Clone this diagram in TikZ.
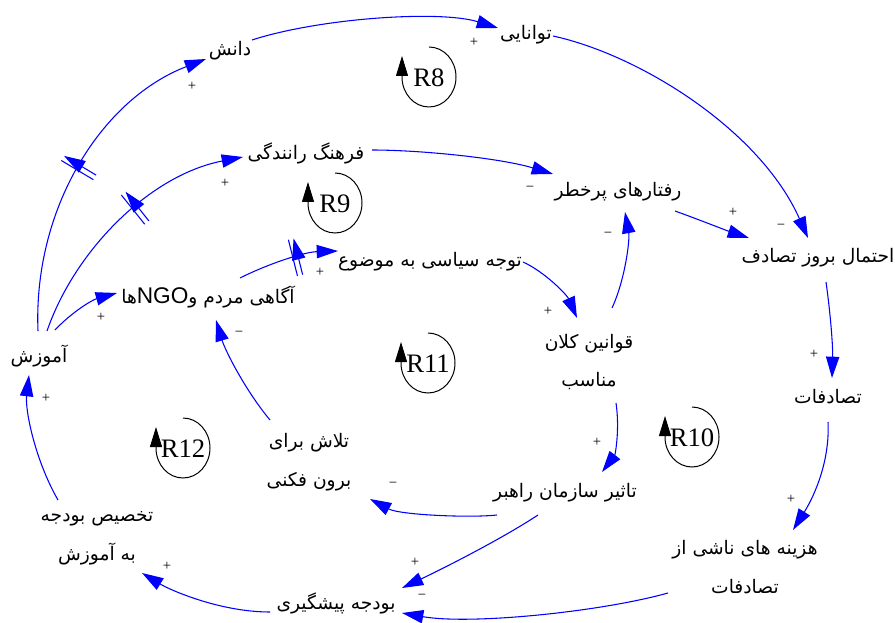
\documentclass[tikz,border=0pt]{standalone}
\usepackage{fontspec}
\setmainfont{Liberation Serif}
\newfontfamily\farsifont[Script=Arabic]{DejaVu Sans}
\newfontfamily\latinsans{Liberation Sans}
\TeXXeTstate=1
\usetikzlibrary{arrows.meta,decorations.markings}
\definecolor{linkblue}{RGB}{0,0,255}

\tikzset{
  var/.style={align=center, inner sep=1pt, font=\farsifont\fontsize{14}{29}\selectfont},
  link/.style={draw=linkblue, line width=0.8pt, -{Triangle[length=16pt,width=10pt]}},
  delay/.style={postaction={decorate, decoration={markings, mark=at position #1 with {
      \draw[linkblue, line width=0.8pt] (-2pt,-14pt) -- (-2pt,14pt) (2pt,-14pt) -- (2pt,14pt);}}}},
  sign/.style={inner sep=0pt, font=\fontsize{11}{11}\selectfont},
  looptext/.style={inner sep=0pt, font=\fontsize{20}{20}\selectfont},
  loopline/.style={draw=black, line width=0.75pt, -{Triangle[length=15pt,width=9pt]}}
}

\begin{document}
\begin{tikzpicture}[x=0.75pt, y=-0.75pt]
\useasboundingbox[fill=white] (0,0) rectangle (895,623);

% variables
\node[var] (edu)    at (39,356)  {\beginR آموزش\endR};
\node[var] (know)   at (230,51)  {\beginR دانش\endR};
\node[var] (abil)   at (526,35)  {\beginR توانایی\endR};
\node[var] (cult)   at (306,153) {\beginR فرهنگ رانندگی\endR};
\node[var] (aware)  at (208,297) {\beginR آگاهی مردم و\beginL{\latinsans\fontsize{17}{17}\selectfont NGO}\endL ها\endR};
\node[var] (polit)  at (430,262) {\beginR توجه سیاسی به موضوع\endR};
\node[var] (risk)   at (618,192) {\beginR رفتارهای پرخطر\endR};
\node[var] (prob)   at (818,258) {\beginR احتمال بروز تصادف\endR};
\node[var] (acc)    at (828,397) {\beginR تصادفات\endR};
\node[var] (cost)   at (745,567) {\beginR هزینه های ناشی از\endR\\\beginR تصادفات\endR};
\node[var] (law)    at (589,362) {\beginR قوانین کلان\endR\\\beginR مناسب\endR};
\node[var] (org)    at (565,493) {\beginR تاثیر سازمان راهبر\endR};
\node[var] (extern) at (309,462) {\beginR تلاش برای\endR\\\beginR برون فکنی\endR};
\node[var] (prev)   at (336,603) {\beginR بودجه پیشگیری\endR};
\node[var] (alloc)  at (97,538)  {\beginR تخصیص بودجه\endR\\\beginR به آموزش\endR};

% causal links
\draw[link, delay=0.5] ([shift={(-1,-25)}]edu.center) .. controls (33,210) and (100,100) .. ([shift={(-24,8)}]know.center);
\draw[link, delay=0.56] ([shift={(8,-25)}]edu.center) .. controls (75,250) and (150,175) .. ([shift={(-63,4)}]cult.center);
\draw[link] ([shift={(16,-26)}]edu.center) .. controls (72,312) and (92,300) .. ([shift={(-91,-4)}]aware.center);
\draw[link] ([shift={(22,-11)}]know.center) .. controls (320,18) and (440,10) .. ([shift={(-28,-7)}]abil.center);
\draw[link] ([shift={(27,1)}]abil.center) .. controls (640,55) and (760,130) .. ([shift={(-10,-20)}]prob.center);
\draw[link] ([shift={(66,-3)}]cult.center) .. controls (420,150) and (500,158) .. ([shift={(-65,-18)}]risk.center);
\draw[link, delay=0.58] ([shift={(32,-19)}]aware.center) .. controls (270,263) and (305,252) .. ([shift={(-92,-11)}]polit.center);
\draw[link] ([shift={(93,0)}]polit.center) .. controls (545,272) and (567,295) .. ([shift={(-12,-44)}]law.center);
\draw[link] ([shift={(23,-54)}]law.center) .. controls (625,280) and (630,240) .. ([shift={(7,20)}]risk.center);
\draw[link] ([shift={(57,19)}]risk.center) .. controls (700,220) and (725,230) .. ([shift={(-69,-20)}]prob.center);
\draw[link] ([shift={(8,24)}]prob.center) .. controls (830,310) and (833,345) .. ([shift={(4,-19)}]acc.center);
\draw[link] ([shift={(0,25)}]acc.center) .. controls (830,460) and (815,495) .. ([shift={(48,-37)}]cost.center);
\draw[link] ([shift={(-77,26)}]cost.center) .. controls (600,612) and (470,625) .. ([shift={(66,10)}]prev.center);
\draw[link] ([shift={(-27,22)}]org.center) .. controls (500,540) and (440,570) .. ([shift={(66,-15)}]prev.center);
\draw[link] ([shift={(-68,22)}]org.center) .. controls (470,518) and (400,515) .. ([shift={(61,37)}]extern.center);
\draw[link] ([shift={(27,41)}]law.center) .. controls (620,430) and (615,455) .. ([shift={(37,-21)}]org.center);
\draw[link] ([shift={(-39,-42)}]extern.center) .. controls (245,390) and (225,350) .. ([shift={(8,23)}]aware.center);
\draw[link] ([shift={(-66,9)}]prev.center) .. controls (220,612) and (170,590) .. ([shift={(45,35)}]alloc.center);
\draw[link] ([shift={(-39,-38)}]alloc.center) .. controls (35,460) and (25,410) .. ([shift={(-10,19)}]edu.center);

% polarities
\node[sign] (p1)  at (192,86)  {+};
\node[sign] (p2)  at (225,183) {+};
\node[sign] (p3)  at (101,317) {+};
\node[sign] (p4)  at (474,42)  {+};
\node[sign] (p5)  at (781,227) {−};
\node[sign] (p6)  at (530,189) {−};
\node[sign] (p7)  at (320,272) {+};
\node[sign] (p8)  at (548,311) {+};
\node[sign] (p9)  at (608,235) {−};
\node[sign] (p10) at (733,212) {+};
\node[sign] (p11) at (814,354) {+};
\node[sign] (p12) at (791,499) {+};
\node[sign] (p13) at (422,597) {−};
\node[sign] (p14) at (415,562) {+};
\node[sign] (p15) at (393,485) {−};
\node[sign] (p16) at (597,442) {+};
\node[sign] (p17) at (239,334) {−};
\node[sign] (p18) at (167,566) {+};
\node[sign] (p19) at (46,398)  {+};

% reinforcing loop markers
\node[looptext] (r8) at (429,78) {R8};
\draw[loopline] (429,47) arc[start angle=-90, end angle=180, x radius=27, y radius=30] -- ++(0,-21);
\node[looptext] (r9) at (335,204) {R9};
\draw[loopline] (335,173) arc[start angle=-90, end angle=180, x radius=27, y radius=30] -- ++(0,-21);
\node[looptext] (r11) at (428,364) {R11};
\draw[loopline] (428,333) arc[start angle=-90, end angle=180, x radius=27, y radius=30] -- ++(0,-21);
\node[looptext] (r12) at (183,449) {R12};
\draw[loopline] (183,418) arc[start angle=-90, end angle=180, x radius=27, y radius=30] -- ++(0,-21);
\node[looptext] (r10) at (692,438) {R10};
\draw[loopline] (692,407) arc[start angle=-90, end angle=180, x radius=27, y radius=30] -- ++(0,-21);
\end{tikzpicture}
\end{document}
